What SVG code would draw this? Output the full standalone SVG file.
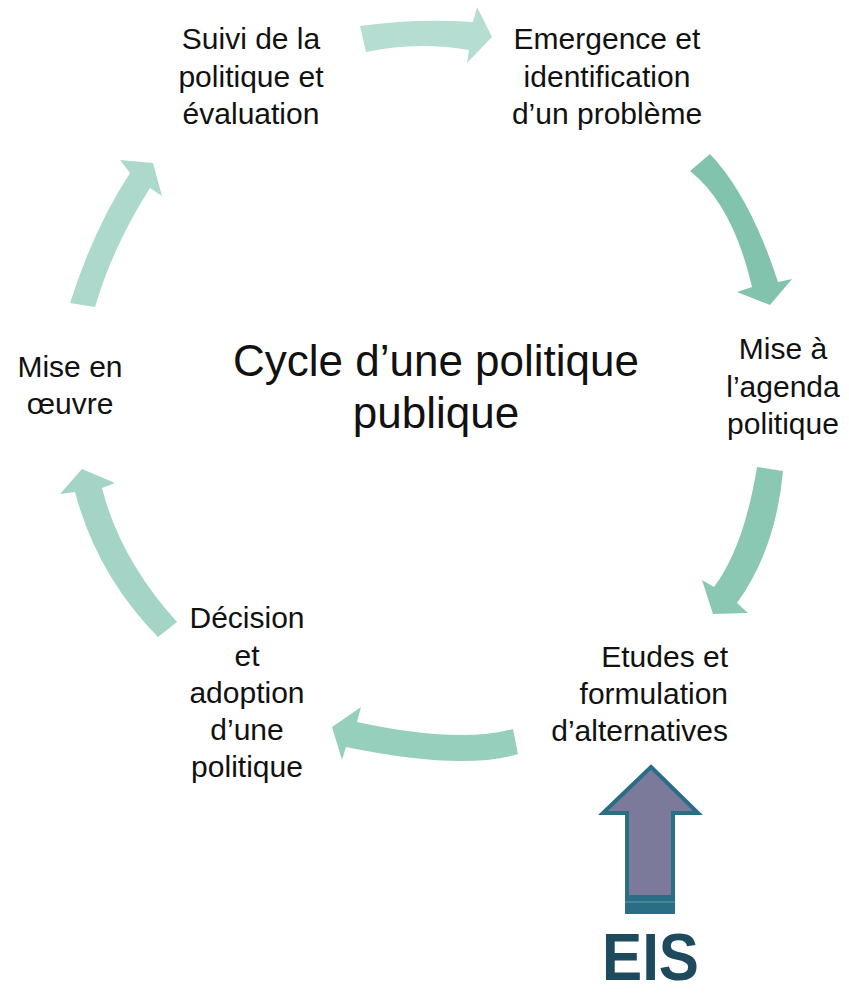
<svg xmlns="http://www.w3.org/2000/svg" width="849" height="994" viewBox="0 0 849 994">
<style>
.lbl{font-family:"Liberation Sans",Arial,sans-serif;font-size:30px;fill:#111;text-anchor:middle}
.end{text-anchor:end}
.ctr{font-family:"Liberation Sans",Arial,sans-serif;font-size:44px;fill:#111;text-anchor:middle}
.eis{font-family:"Liberation Sans",Arial,sans-serif;font-size:66px;font-weight:bold;fill:#1d4a5c}
</style>
<rect width="849" height="994" fill="#fff"/>
<g id="connectors">
<path id="a1" fill="#b6ddd2" d="M360,26 Q417,18 473,22 L477,7 L492,37 L467,63 L469,50 Q417,41 366,52 Z"/>
<path id="a2" fill="#82c3ae" d="M710,154 Q750,196 778,282 L792,279 L770,305 L737,292 L752,287 Q733,205 690,171 Z"/>
<path id="a3" fill="#8bc8b4" d="M757,467 L783,471 Q776,549 737,603 L748,613 L713,614 L702,580 L714,587 Q744,547 757,467 Z"/>
<path id="a4" fill="#97cfbd" d="M513,729 L518,754 Q462,771 346,747 L342,760 L332,727 L361,707 L357,722 Q459,744 513,729 Z"/>
<path id="a5" fill="#a3d4c5" d="M177,622 L158,637 Q97,575 75,492 L60,494 L82,469 L115,483 L102,488 Q120,559 177,622 Z"/>
<path id="a6" fill="#add9cc" d="M70,303 L95,307 Q113,246 150,188 L162,196 L153,163 L120,160 L130,173 Q94,228 70,303 Z"/>
</g>
<g id="center"><text class="ctr" x="436" y="376">Cycle d’une politique</text><text class="ctr" x="436" y="428">publique</text></g>
<g id="suivi"><text class="lbl" x="251" y="49">Suivi de la</text><text class="lbl" x="251" y="87">politique et</text><text class="lbl" x="251" y="124">évaluation</text></g>
<g id="emergence"><text class="lbl" x="607" y="49">Emergence et</text><text class="lbl" x="607" y="87">identification</text><text class="lbl" x="607" y="124">d’un problème</text></g>
<g id="agenda"><text class="lbl" x="783" y="359">Mise à</text><text class="lbl" x="783" y="397">l’agenda</text><text class="lbl" x="783" y="434">politique</text></g>
<g id="etudes"><text class="lbl end" x="728" y="667">Etudes et</text><text class="lbl end" x="728" y="704">formulation</text><text class="lbl end" x="728" y="741">d’alternatives</text></g>
<g id="decision"><text class="lbl" x="247" y="628">Décision</text><text class="lbl" x="247" y="666">et</text><text class="lbl" x="247" y="703">adoption</text><text class="lbl" x="247" y="740">d’une</text><text class="lbl" x="247" y="777">politique</text></g>
<g id="oeuvre"><text class="lbl" x="70" y="377">Mise en</text><text class="lbl" x="70" y="414">œuvre</text></g>
<g id="eis">
<polygon points="651,767 698,813 673,813 673,912 627,912 627,813 603,813" fill="#7b7a9b" stroke="#2a6e86" stroke-width="4" stroke-linejoin="miter"/>
<rect x="625" y="895" width="50" height="18" fill="#2a6e86"/>
<line x1="625" y1="902" x2="675" y2="902" stroke="#6d9aad" stroke-width="1"/>
<text class="eis" x="602" y="980" textLength="97" lengthAdjust="spacingAndGlyphs">EIS</text>
</g>
</svg>
